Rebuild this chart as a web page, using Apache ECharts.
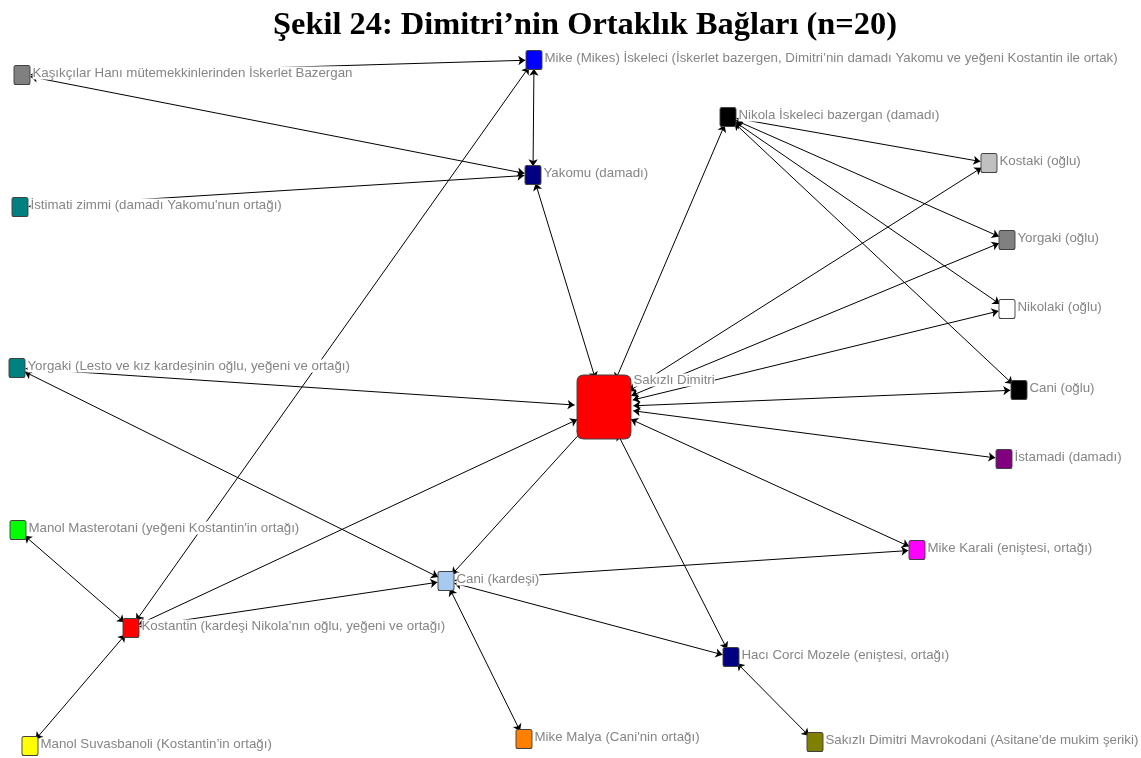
<!DOCTYPE html>
<html>
<head>
<meta charset="utf-8">
<script src="https://cdn.jsdelivr.net/npm/echarts@6/dist/echarts.min.js"></script>
<style>
  html, body { margin: 0; padding: 0; background: #fff; }
  #chart { width: 1141px; height: 758px; }
</style>
</head>
<body>
<div id="chart"></div>
<script>
// actors
const nodeNames = [
    'Kaşıkçılar Hanı mütemekkinlerinden İskerlet Bazergan',
    'Mike (Mikes) İskeleci (İskerlet bazergen, Dimitri’nin damadı Yakomu ve yeğeni Kostantin ile ortak)',
    'Yakomu (damadı)',
    'Nikola İskeleci bazergan (damadı)',
    'Kostaki (oğlu)',
    'İstimati zimmi (damadı Yakomu\'nun ortağı)',
    'Yorgaki (oğlu)',
    'Nikolaki (oğlu)',
    'Yorgaki (Lesto ve kız kardeşinin oğlu, yeğeni ve ortağı)',
    'Sakızlı Dimitri',
    'Cani (oğlu)',
    'İstamadi (damadı)',
    'Manol Masterotani (yeğeni Kostantin\'in ortağı)',
    'Mike Karali (eniştesi, ortağı)',
    'Cani (kardeşi)',
    'Kostantin (kardeşi Nikola’nın oğlu, yeğeni ve ortağı)',
    'Hacı Corci Mozele (eniştesi, ortağı)',
    'Manol Suvasbanoli (Kostantin’in ortağı)',
    'Mike Malya (Cani\'nin ortağı)',
    'Sakızlı Dimitri Mavrokodani (Asitane\'de mukim şeriki)'
];
// layout positions
const nodeX = [22, 534, 533, 728, 989, 20, 1007, 1007, 17, 604, 1019, 1004, 18, 917, 446, 131, 731, 30, 524, 815];
const nodeY = [75, 60, 175, 117, 163, 207, 240, 309, 368, 407, 390, 459, 530, 550, 581, 628, 657, 746, 739, 742];
const nodeColors = [
    '#808080', '#0000ff', '#000080', '#000000', '#c0c0c0',
    '#008080', '#808080', '#ffffff', '#008080', '#ff0000',
    '#000000', '#800080', '#00ff00', '#ff00ff', '#a6caf0',
    '#ff0000', '#000080', '#ffff00', '#ff8000', '#808000'
];
// ties (index pairs)
const edgeFrom = [0, 0, 1, 5, 2, 15, 3, 3, 3, 3, 3, 4, 6, 7, 10, 11, 13, 8, 8, 15, 14, 15, 14, 14, 14, 16, 16, 12, 17];
const edgeTo   = [1, 2, 2, 2, 9, 1, 9, 4, 6, 7, 10, 9, 9, 9, 9, 9, 9, 9, 14, 9, 9, 14, 13, 16, 18, 9, 19, 15, 15];

const smallBox = 'path://M2,0 H14 Q16,0 16,2 V17 Q16,19 14,19 H2 Q0,19 0,17 V2 Q0,0 2,0 Z';
const bigBox = 'path://M7,0 H47 Q54,0 54,7 V57 Q54,64 47,64 H7 Q0,64 0,57 V7 Q0,0 7,0 Z';

const nodes = nodeNames.map((name, i) => {
    const big = i === 9;
    return {
        name: name,
        value: [nodeX[i], nodeY[i]],
        symbol: big ? bigBox : smallBox,
        symbolSize: big ? [54, 64] : [16, 19],
        itemStyle: {color: nodeColors[i]},
        label: big ? {offset: [0, -27]} : {}
    };
});
const links = edgeFrom.map((s, i) => ({source: s, target: edgeTo[i]}));

const chart = echarts.init(document.getElementById('chart'));
chart.setOption({
    animation: false,
    title: {
        text: 'Şekil 24: Dimitri’nin Ortaklık Bağları (n=20)',
        left: 268,
        top: 5,
        textStyle: {
            fontFamily: 'Liberation Serif',
            fontWeight: 'bold',
            fontSize: 32.4,
            color: '#000'
        }
    },
    grid: {left: 0, right: 0, top: 0, bottom: 0},
    xAxis: {type: 'value', min: 0, max: 1141, show: false},
    yAxis: {type: 'value', min: 0, max: 758, inverse: true, show: false},
    series: [{
        type: 'graph',
        coordinateSystem: 'cartesian2d',
        data: nodes,
        links: links,
        edgeSymbol: ['arrow', 'arrow'],
        edgeSymbolSize: [7, 7],
        itemStyle: {
            borderColor: '#404040',
            borderWidth: 1
        },
        label: {
            show: true,
            position: 'right',
            distance: 2,
            offset: [0, -2],
            color: '#858585',
            fontFamily: 'Liberation Sans',
            fontSize: 13.3,
            backgroundColor: '#fff'
        },
        lineStyle: {
            color: '#000',
            width: 1,
            opacity: 1,
            curveness: 0
        },
        emphasis: {disabled: true}
    }]
});
</script>
</body>
</html>
